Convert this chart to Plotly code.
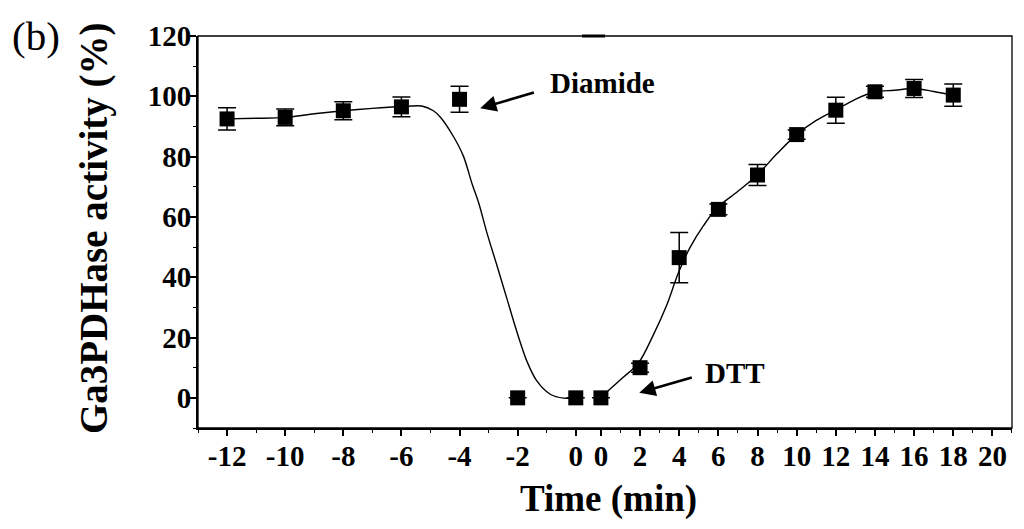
import plotly.graph_objects as go

# ---- data ----
# before-DTT segment (Diamide treatment)
t_left = [-12, -10, -8, -6, -4, -2, 0]
act_left = [92.5, 93.0, 95.2, 96.5, 99.0, 0.0, 0.0]
err_left = [3.7, 2.8, 3.0, 3.3, 4.3, 0.0, 0.0]

# after-DTT segment
t_right = [0, 2, 4, 6, 8, 10, 12, 14, 16, 18]
act_right = [0.0, 10.0, 46.5, 62.5, 73.9, 87.3, 95.4, 101.5, 102.6, 100.4]
err_right = [0.0, 1.5, 8.3, 1.8, 3.5, 1.5, 4.3, 1.8, 3.0, 3.7]

# fitted curves
fit_left_t = [-12, -11, -10, -9, -8, -7, -6, -5.3, -4.9, -4.65, -4.2, -3.86, -3.57,
              -3.34, -3.06, -2.71, -2.37, -2.03, -1.68, -1.34, -0.88, -0.42, 0]
fit_left_y = [92.5, 92.7, 93.0, 94.2, 95.2, 96.0, 96.6, 96.8, 95.2, 93.0, 86.5, 80.0, 71.0,
              64.6, 54.8, 43.8, 32.9, 22.0, 12.1, 5.6, 1.2, -0.1, 0.0]
fit_right_t = [0, 0.47, 1.14, 1.91, 2.68, 3.36, 3.96, 4.55, 5.23, 5.92, 7, 8, 9, 10,
               11, 12, 13, 14, 15, 16, 17, 18]
fit_right_y = [0.0, 2.9, 6.8, 11.5, 20.9, 30.7, 41.5, 49.8, 57.0, 62.9, 68.5, 74.0, 81.0, 87.3,
               92.0, 95.5, 99.0, 101.5, 102.0, 102.6, 101.6, 100.4]

left_ticks = [-12, -10, -8, -6, -4, -2, 0]
right_ticks = [0, 2, 4, 6, 8, 10, 12, 14, 16, 18, 20]
y_ticks = [0, 20, 40, 60, 80, 100, 120]

FONT = "Liberation Serif"
SPLIT = 0.4791

fig = go.Figure()

fig.add_trace(go.Scatter(x=fit_left_t, y=fit_left_y, mode="lines",
                         line=dict(color="black", width=1.4, shape="spline", smoothing=0.8),
                         xaxis="x", yaxis="y", showlegend=False, hoverinfo="skip"))
fig.add_trace(go.Scatter(x=fit_right_t, y=fit_right_y, mode="lines",
                         line=dict(color="black", width=1.4, shape="spline", smoothing=1.0),
                         xaxis="x2", yaxis="y", showlegend=False, hoverinfo="skip"))

err_style = dict(type="data", visible=True, color="black", thickness=1.5, width=9)
fig.add_trace(go.Scatter(x=t_left, y=act_left, mode="markers",
                         marker=dict(symbol="square", size=15, color="black", line=dict(width=0)),
                         error_y=dict(array=err_left, **err_style),
                         xaxis="x", yaxis="y", showlegend=False))
fig.add_trace(go.Scatter(x=t_right, y=act_right, mode="markers",
                         marker=dict(symbol="square", size=15, color="black", line=dict(width=0)),
                         error_y=dict(array=err_right, **err_style),
                         xaxis="x2", yaxis="y", showlegend=False))

tickfont = dict(family=FONT, size=29, color="black", weight="bold")
common_x = dict(showgrid=False, zeroline=False, showline=True, linecolor="black", linewidth=2,
                ticks="outside", ticklen=6, tickwidth=1.5, tickcolor="black",
                tickfont=tickfont, anchor="y", ticklabelstandoff=-5)

fig.update_layout(
    width=1016, height=521, autosize=False,
    margin=dict(l=190, r=12, t=22, b=101),
    paper_bgcolor="white", plot_bgcolor="white",
    xaxis=dict(domain=[0, SPLIT], range=[-13, 0.42], tickvals=left_ticks,
               ticktext=[str(v) for v in left_ticks],
               minor=dict(dtick=1, tick0=-13, ticks="outside", ticklen=3, tickcolor="black", tickwidth=1.2),
               **common_x),
    xaxis2=dict(domain=[SPLIT, 1], range=[-0.66, 21], tickvals=right_ticks,
                ticktext=[str(v) for v in right_ticks],
                minor=dict(dtick=1, tick0=1, ticks="outside", ticklen=3, tickcolor="black", tickwidth=1.2),
                **common_x),
    yaxis=dict(domain=[0, 1], range=[-10, 120], tickvals=y_ticks, showgrid=False, zeroline=False,
               showline=True, linecolor="black", linewidth=2, ticks="outside", ticklen=7,
               tickwidth=1.5, tickcolor="black", tickfont=tickfont, anchor="x",
               ticklabelstandoff=-8,
               minor=dict(dtick=10, tick0=-10, ticks="outside", ticklen=3, tickcolor="black", tickwidth=1.2)),
)

# frame and axis-break mark
fig.add_shape(type="rect", xref="paper", yref="paper", x0=0, x1=1, y0=0, y1=1,
              line=dict(color="black", width=1.3), layer="above")
fig.add_shape(type="line", xref="paper", yref="paper", x0=0.4717, x1=0.5, y0=1, y1=1,
              line=dict(color="black", width=3), layer="above")

# text labels
fig.add_annotation(text="Ga3PDHase activity (%)", xref="paper", yref="paper", x=-0.1278, y=0.51,
                   textangle=-90, showarrow=False, xanchor="center", yanchor="middle",
                   font=dict(family=FONT, size=39, color="black", weight="bold"))
fig.add_annotation(text="Time (min)", xref="paper", yref="paper", x=0.5037, y=-0.181,
                   showarrow=False, xanchor="center", yanchor="middle",
                   font=dict(family=FONT, size=37, color="black", weight="bold"))
fig.add_annotation(text="(b)", xref="paper", yref="paper", x=-0.231, y=1.0,
                   showarrow=False, xanchor="left", yanchor="middle",
                   font=dict(family=FONT, size=41, color="black"))
fig.add_annotation(text="Diamide", xref="paper", yref="paper", x=0.43, y=0.8794,
                   showarrow=False, xanchor="left", yanchor="middle",
                   font=dict(family=FONT, size=29, color="black", weight="bold"))
fig.add_annotation(text="DTT", xref="paper", yref="paper", x=0.6204, y=0.1407,
                   showarrow=False, xanchor="left", yanchor="middle",
                   font=dict(family=FONT, size=29, color="black", weight="bold"))

# arrows
fig.add_annotation(text="", x=-3.29, y=96, xref="x", yref="y",
                   ax=-1.39, ay=101.4, axref="x", ayref="y",
                   showarrow=True, arrowhead=2, arrowsize=1.3, arrowwidth=2.5, arrowcolor="black")
fig.add_annotation(text="", x=1.96, y=1.7, xref="x2", yref="y",
                   ax=4.72, ay=6.9, axref="x2", ayref="y",
                   showarrow=True, arrowhead=2, arrowsize=1.3, arrowwidth=2.5, arrowcolor="black")

fig.write_html("out.html")
